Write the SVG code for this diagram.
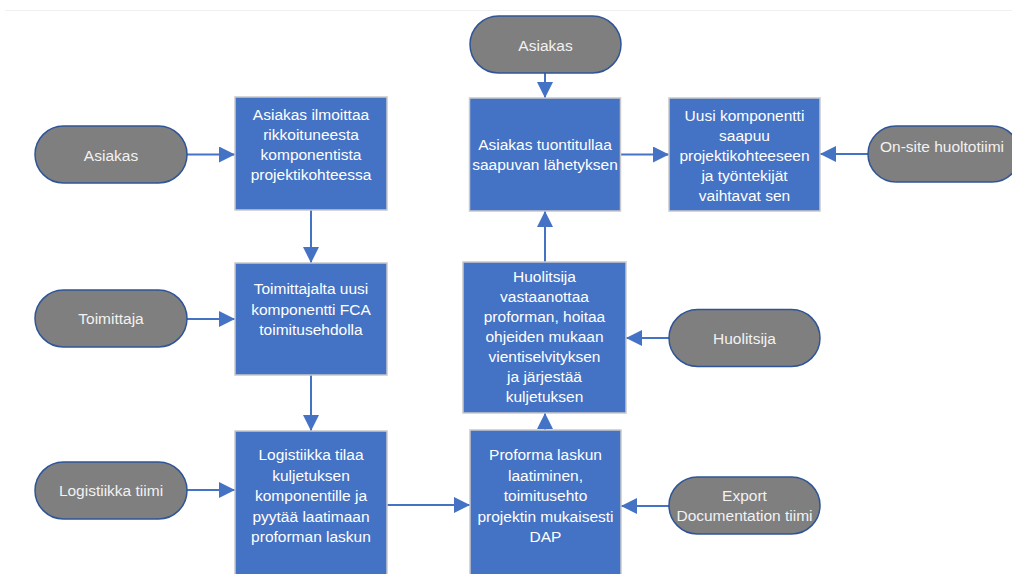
<svg xmlns="http://www.w3.org/2000/svg" width="1012" height="574" viewBox="0 0 1012 574">
<defs>
<style>
.box{fill:#4472C4;stroke:#C9C9C9;stroke-width:1.5}
.term{fill:#7F7F7F;stroke:#2F5597;stroke-width:1.5}
.bt{font-family:"Liberation Sans",Arial,sans-serif;font-size:15.5px;fill:#FFFFFF;text-anchor:middle}
.tt{font-family:"Liberation Sans",Arial,sans-serif;font-size:15.5px;fill:#F2F2F2;text-anchor:middle}
.con{stroke:#4472C4;stroke-width:2;fill:none;marker-end:url(#ah)}
</style>
<marker id="ah" markerUnits="userSpaceOnUse" markerWidth="16" markerHeight="16" refX="16" refY="8" orient="auto" viewBox="0 0 16 16">
<path d="M0,0 L16,8 L0,16 Z" fill="#4472C4"/>
</marker>
</defs>
<rect x="0" y="0" width="1012" height="574" fill="#FFFFFF"/>
<line x1="5" y1="10.5" x2="1012" y2="10.5" stroke="#F0F0F0" stroke-width="1"/>

<g id="connectors">
<line class="con" x1="187" y1="154.5" x2="235" y2="154.5"/>
<line class="con" x1="311" y1="210" x2="311" y2="263"/>
<line class="con" x1="187" y1="319" x2="235" y2="319"/>
<line class="con" x1="311" y1="375" x2="311" y2="431"/>
<line class="con" x1="187" y1="490" x2="235" y2="490"/>
<line class="con" x1="387" y1="505" x2="470" y2="505"/>
<line class="con" x1="669" y1="506" x2="621" y2="506"/>
<line class="con" x1="545" y1="430" x2="545" y2="413"/>
<line class="con" x1="669" y1="338" x2="626" y2="338"/>
<line class="con" x1="545" y1="262" x2="545" y2="211"/>
<line class="con" x1="545" y1="73" x2="545" y2="98"/>
<line class="con" x1="621" y1="154.5" x2="669" y2="154.5"/>
<line class="con" x1="868" y1="154" x2="820" y2="154"/>
</g>

<g id="term-asiakas-left">
<rect class="term" x="35" y="126" width="152" height="57" rx="28.5"/>
<text class="tt" x="111" y="160.5">Asiakas</text>
</g>
<g id="term-toimittaja">
<rect class="term" x="35" y="290" width="152" height="57" rx="28.5"/>
<text class="tt" x="111" y="323.5">Toimittaja</text>
</g>
<g id="term-logistiikka">
<rect class="term" x="35" y="462" width="152" height="57" rx="28.5"/>
<text class="tt" x="111" y="495.5">Logistiikka tiimi</text>
</g>
<g id="term-asiakas-top">
<rect class="term" x="470" y="16" width="151" height="57" rx="28.5"/>
<text class="tt" x="545.5" y="50.5">Asiakas</text>
</g>
<g id="term-huolitsija">
<rect class="term" x="669" y="309.5" width="151" height="57" rx="28.5"/>
<text class="tt" x="744.5" y="343.5">Huolitsija</text>
</g>
<g id="term-export">
<rect class="term" x="669" y="477" width="151" height="57" rx="28.5"/>
<text class="tt" x="744.5" y="501">Export</text>
<text class="tt" x="744.5" y="521">Documentation tiimi</text>
</g>
<g id="term-onsite">
<rect class="term" x="868" y="126" width="152" height="56" rx="28"/>
<text class="tt" x="942" y="152">On-site huoltotiimi</text>
</g>

<g id="box-ilmoittaa">
<rect class="box" x="235" y="97" width="152" height="113"/>
<text class="bt" x="311" y="120">Asiakas ilmoittaa</text>
<text class="bt" x="311" y="140">rikkoituneesta</text>
<text class="bt" x="311" y="160">komponentista</text>
<text class="bt" x="311" y="180">projektikohteessa</text>
</g>
<g id="box-toimittajalta">
<rect class="box" x="235" y="263" width="152" height="112"/>
<text class="bt" x="311" y="294">Toimittajalta uusi</text>
<text class="bt" x="311" y="314.5">komponentti FCA</text>
<text class="bt" x="311" y="335">toimitusehdolla</text>
</g>
<g id="box-logistiikka">
<rect class="box" x="235" y="431" width="152" height="160"/>
<text class="bt" x="311" y="460">Logistiikka tilaa</text>
<text class="bt" x="311" y="480.5">kuljetuksen</text>
<text class="bt" x="311" y="501">komponentille ja</text>
<text class="bt" x="311" y="521.5">pyytää laatimaan</text>
<text class="bt" x="311" y="542">proforman laskun</text>
</g>
<g id="box-proforma">
<rect class="box" x="470" y="430" width="151" height="160"/>
<text class="bt" x="545.5" y="460">Proforma laskun</text>
<text class="bt" x="545.5" y="480.5">laatiminen,</text>
<text class="bt" x="545.5" y="501">toimitusehto</text>
<text class="bt" x="545.5" y="521.5">projektin mukaisesti</text>
<text class="bt" x="545.5" y="542">DAP</text>
</g>
<g id="box-huolitsija">
<rect class="box" x="463" y="262" width="163" height="151"/>
<text class="bt" x="544.5" y="282">Huolitsija</text>
<text class="bt" x="544.5" y="302">vastaanottaa</text>
<text class="bt" x="544.5" y="322">proforman, hoitaa</text>
<text class="bt" x="544.5" y="342">ohjeiden mukaan</text>
<text class="bt" x="544.5" y="362">vientiselvityksen</text>
<text class="bt" x="544.5" y="382">ja järjestää</text>
<text class="bt" x="544.5" y="402">kuljetuksen</text>
</g>
<g id="box-tuontitullaa">
<rect class="box" x="469.5" y="98" width="151" height="113"/>
<text class="bt" x="545" y="150">Asiakas tuontitullaa</text>
<text class="bt" x="545" y="170">saapuvan lähetyksen</text>
</g>
<g id="box-uusi">
<rect class="box" x="669" y="98" width="151" height="113"/>
<text class="bt" x="744.5" y="120.5">Uusi komponentti</text>
<text class="bt" x="744.5" y="140.5">saapuu</text>
<text class="bt" x="744.5" y="160.5">projektikohteeseen</text>
<text class="bt" x="744.5" y="180.5">ja työntekijät</text>
<text class="bt" x="744.5" y="200.5">vaihtavat sen</text>
</g>
</svg>
